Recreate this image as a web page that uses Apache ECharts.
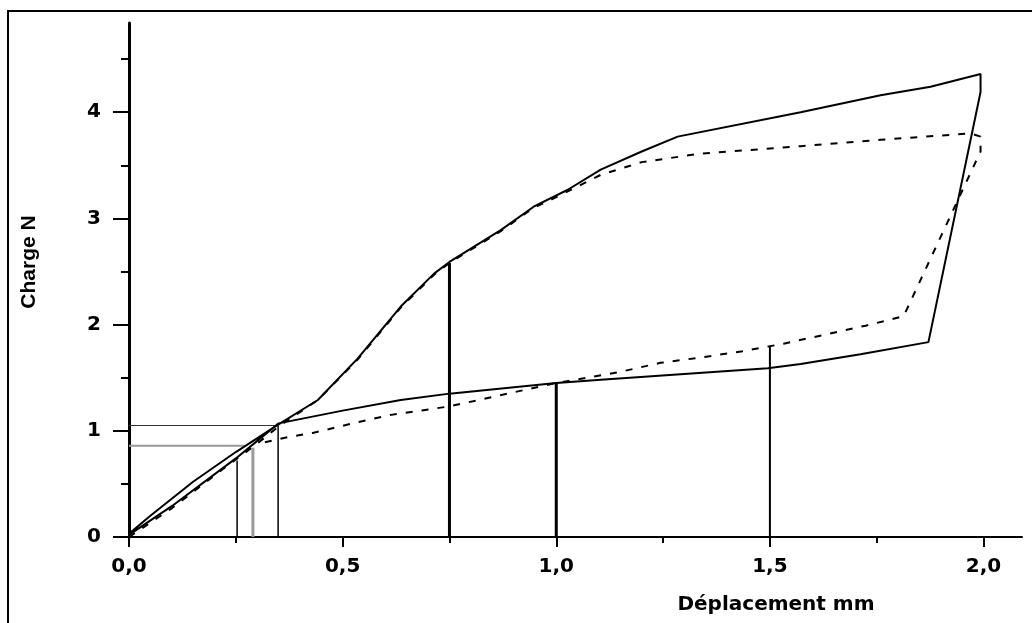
<!DOCTYPE html>
<html>
<head>
<meta charset="utf-8">
<script src="https://cdn.jsdelivr.net/npm/echarts@6/dist/echarts.min.js"></script>
<style>
  html, body { margin: 0; padding: 0; background: #fff; }
  #main { width: 1032px; height: 623px; }
</style>
</head>
<body>
<div id="main"></div>
<script>
// axes
var xTicks = [0, 0.5, 1, 1.5, 2]
var xMinorTicks = [0.25, 0.75, 1.25, 1.75]
var yTicks = [0, 1, 2, 3, 4]
var yMinorTicks = [0.5, 1.5, 2.5, 3.5, 4.5]

// courbe pleine (charge puis decharge)
var solidX = [0, 0.05, 0.15, 0.25, 0.35, 0.442, 0.535, 0.636, 0.714, 0.75, 0.87, 0.947, 1.027, 1.104, 1.2, 1.284, 1.572, 1.759, 1.876, 1.993,
  1.993, 1.871, 1.712, 1.572, 1.495, 1.104, 1.0, 0.75, 0.636, 0.5, 0.35, 0.25, 0.1, 0]
var solidY = [0.03, 0.2, 0.52, 0.8, 1.06, 1.29, 1.68, 2.17, 2.48, 2.59, 2.89, 3.11, 3.27, 3.46, 3.63, 3.77, 4.0, 4.16, 4.24, 4.36,
  4.19, 1.835, 1.72, 1.63, 1.59, 1.48, 1.45, 1.35, 1.29, 1.19, 1.07, 0.74, 0.29, 0.02]

// courbe pointillee
var dashX = [0, 0.1, 0.2, 0.3, 0.35, 0.442, 0.535, 0.636, 0.714, 0.75, 0.87, 0.947, 1.0, 1.104, 1.2, 1.338, 1.572, 1.759, 1.97, 1.993,
  1.993, 1.813, 1.775, 1.724, 1.532, 1.436, 1.338, 1.244, 1.144, 1.0, 0.75, 0.613, 0.524, 0.43, 0.372, 0.316]
var dashY = [0, 0.27, 0.58, 0.88, 1.04, 1.29, 1.67, 2.16, 2.47, 2.58, 2.88, 3.1, 3.2, 3.41, 3.53, 3.61, 3.68, 3.74, 3.8, 3.77,
  3.63, 2.08, 2.04, 1.99, 1.82, 1.75, 1.69, 1.64, 1.55, 1.45, 1.23, 1.15, 1.07, 0.98, 0.94, 0.89]

// reperes verticaux et horizontaux
var guideX = [0.253, 0.29, 0.349, 0.75, 1.0, 1.5]
var guideTop = [0.72, 0.84, 1.05, 2.58, 1.46, 1.79]
var levelY = [1.05, 0.86]
var levelEnd = [0.349, 0.27]

var guideWidth = [1.5, 3, 1.5, 3, 3, 2]
var guideColor = ['#000', '#9a9a9a', '#000', '#000', '#000', '#000']
var levelWidth = [1.2, 2]
var levelColor = ['#333', '#999']

function zip(xs, ys) {
  var out = []
  for (var i = 0; i < xs.length; i++) {
    out.push([xs[i], ys[i]])
  }
  return out
}

function fmtComma(v) {
  return v.toFixed(1).replace('.', ',')
}

var series = [
  {
    type: 'line',
    data: zip(solidX, solidY),
    showSymbol: false,
    z: 4,
    lineStyle: { color: '#000', width: 2 }
  },
  {
    type: 'line',
    data: zip(dashX, dashY),
    showSymbol: false,
    z: 3,
    lineStyle: { color: '#000', width: 2, type: [7, 9] }
  }
]
for (var i = 0; i < guideX.length; i++) {
  series.push({
    type: 'line',
    data: [[guideX[i], 0], [guideX[i], guideTop[i]]],
    showSymbol: false,
    z: 2,
    lineStyle: { color: guideColor[i], width: guideWidth[i] }
  })
}
for (var j = 0; j < levelY.length; j++) {
  series.push({
    type: 'line',
    data: [[0, levelY[j]], [levelEnd[j], levelY[j]]],
    showSymbol: false,
    z: 2,
    lineStyle: { color: levelColor[j], width: levelWidth[j] }
  })
}

var labelFont = {
  color: '#000',
  fontFamily: 'DejaVu Sans',
  fontWeight: 'bold',
  fontSize: 20
}

var myChart = echarts.init(document.getElementById('main'))
var option = {
  backgroundColor: '#fff',
  animation: false,
  grid: {
    left: 129,
    right: 10,
    top: 23,
    bottom: 86
  },
  xAxis: [
    {
      type: 'value',
      min: 0,
      max: 2.09,
      interval: 0.5,
      splitLine: { show: false },
      axisLine: { show: true, lineStyle: { color: '#000', width: 2 } },
      axisTick: { show: true, length: 10, customValues: xTicks, lineStyle: { color: '#000', width: 2 } },
      axisLabel: Object.assign({ margin: 20, customValues: xTicks, formatter: fmtComma }, labelFont)
    },
    {
      type: 'value',
      min: 0,
      max: 2.09,
      position: 'bottom',
      splitLine: { show: false },
      axisLine: { show: false },
      axisTick: { show: true, length: 6, customValues: xMinorTicks, lineStyle: { color: '#000', width: 2 } },
      axisLabel: { show: false }
    }
  ],
  yAxis: [
    {
      type: 'value',
      min: 0,
      max: 4.84,
      interval: 1,
      splitLine: { show: false },
      axisLine: { show: true, lineStyle: { color: '#000', width: 3 } },
      axisTick: { show: true, length: 16, customValues: yTicks, lineStyle: { color: '#000', width: 2 } },
      axisLabel: Object.assign({ margin: 28, customValues: yTicks }, labelFont)
    },
    {
      type: 'value',
      min: 0,
      max: 4.84,
      position: 'left',
      splitLine: { show: false },
      axisLine: { show: false },
      axisTick: { show: true, length: 8, customValues: yMinorTicks, lineStyle: { color: '#000', width: 2 } },
      axisLabel: { show: false }
    }
  ],
  graphic: [
    {
      type: 'rect',
      shape: { x: 8, y: 11, width: 1100, height: 700 },
      style: { fill: 'none', stroke: '#000', lineWidth: 2 },
      silent: true
    },
    {
      type: 'text',
      x: 776,
      y: 605,
      style: {
        text: 'Déplacement mm',
        fill: '#000',
        font: 'bold 20px "DejaVu Sans"',
        align: 'center',
        verticalAlign: 'middle'
      }
    },
    {
      type: 'text',
      x: 29,
      y: 262,
      rotation: Math.PI / 2,
      style: {
        text: 'Charge N',
        fill: '#000',
        font: 'bold 21px "Liberation Sans", Arial, sans-serif',
        align: 'center',
        verticalAlign: 'middle'
      }
    }
  ],
  series: series
}
option && myChart.setOption(option, true)
</script>
</body>
</html>
